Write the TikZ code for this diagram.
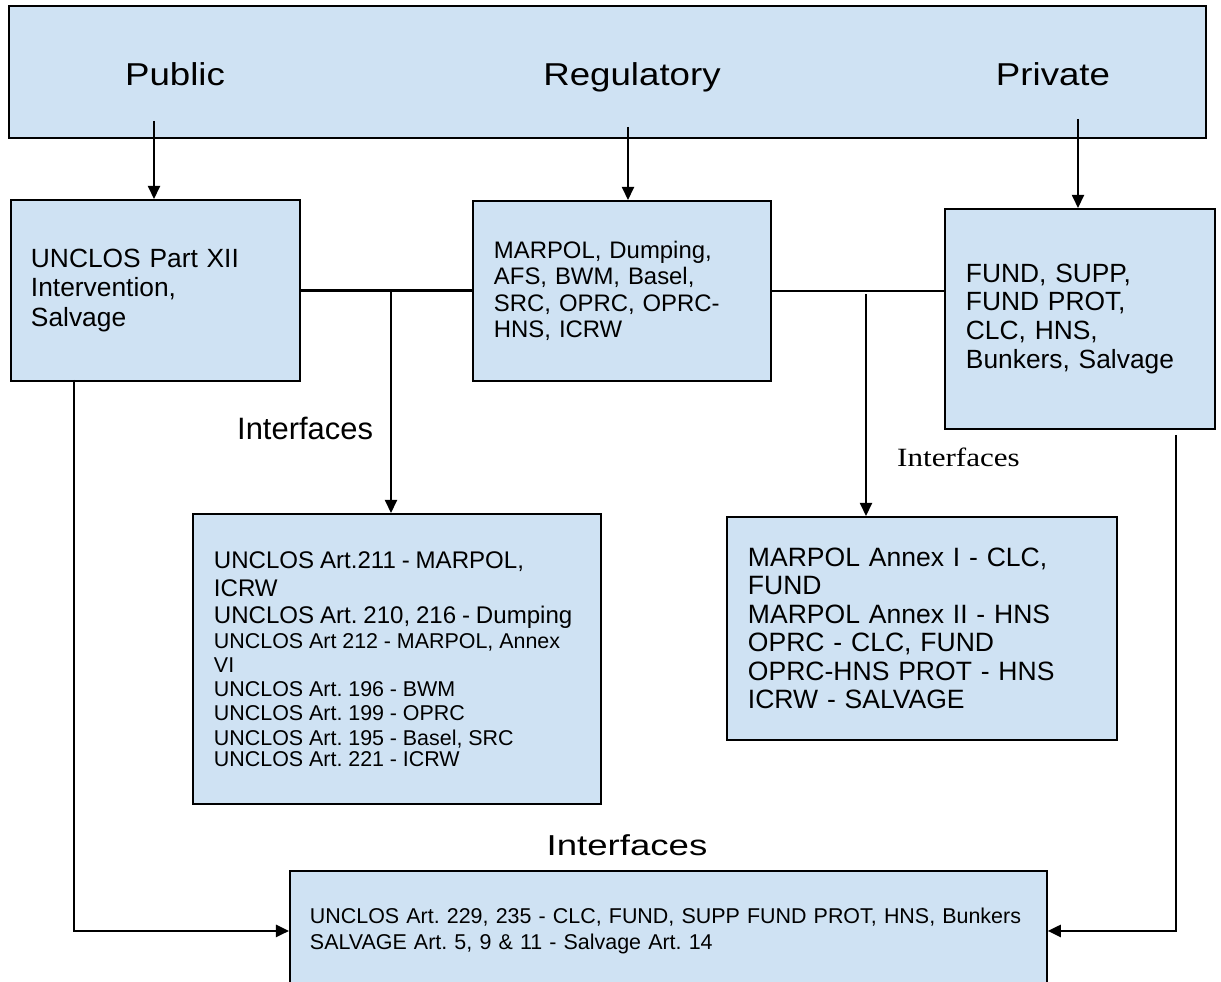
\documentclass[tikz,border=0pt]{standalone}
\usepackage{fontspec}
\setmainfont{Liberation Sans}
\newfontfamily\widefont[FakeStretch=1.16]{Liberation Sans}
\newfontfamily\widerfont[FakeStretch=1.27]{Liberation Sans}
\newfontfamily\timesfont[FakeStretch=1.18]{Liberation Serif}
\usetikzlibrary{arrows.meta}
\definecolor{boxblue}{HTML}{CFE2F3}
\frenchspacing
\tikzset{
  panel/.style={draw, line width=1.1pt, fill=boxblue, anchor=north west, inner sep=0pt, align=left},
  link/.style={line width=1.4pt},
  feed/.style={->, line width=0.8pt},
  route/.style={->, line width=1.1pt}
}

\begin{document}
\begin{tikzpicture}[>={Triangle[length=7.5pt,width=7pt]}, x=0.02cm, y=-0.02cm]
  \useasboundingbox (0,0) rectangle (1221,982);
  \clip (0,0) rectangle (1221,982);
  % header band
  \node[panel, minimum width=23.94cm, minimum height=2.64cm] (top) at (8,5) {};
  \node[anchor=base, font=\widefont\fontsize{18pt}{20pt}\selectfont] (lpub) at (175,86) {Public};
  \node[anchor=base, font=\widefont\fontsize{18pt}{20pt}\selectfont] (lreg) at (632,86) {Regulatory};
  \node[anchor=base, font=\widefont\fontsize{18pt}{20pt}\selectfont] (lpriv) at (1053,86) {Private};
  % three regimes
  \node[panel, minimum width=5.78cm, minimum height=3.62cm, text width=4.98cm,
        font=\fontsize{15pt}{17pt}\selectfont] (pub) at (10,199)
    {UNCLOS Part XII\\Intervention,\\Salvage};
  \node[panel, minimum width=5.96cm, minimum height=3.6cm, text width=5.12cm,
        font=\fontsize{13.6pt}{15.1pt}\selectfont] (reg) at (472,200)
    {MARPOL, Dumping,\\AFS, BWM, Basel,\\SRC, OPRC, OPRC-\\HNS, ICRW};
  \node[panel, minimum width=5.4cm, minimum height=4.4cm, text width=4.56cm,
        font=\fontsize{15pt}{16.4pt}\selectfont] (priv) at (944,208)
    {FUND, SUPP,\\FUND PROT,\\CLC, HNS,\\Bunkers, Salvage};
  % interfaces
  \node[panel, minimum width=8.16cm, minimum height=5.8cm, text width=7.32cm] (ifl) at (192,513)
    {{\fontsize{13.7pt}{15.8pt}\selectfont UNCLOS Art.211 - MARPOL,\\ICRW\\UNCLOS Art. 210, 216 - Dumping\par}
     \fontsize{12.2pt}{13.8pt}\selectfont UNCLOS Art 212 - MARPOL, Annex\\VI\\UNCLOS Art. 196 - BWM\\UNCLOS Art. 199 - OPRC\\UNCLOS Art. 195 - Basel, SRC\\UNCLOS Art. 221 - ICRW};
  \node[panel, minimum width=7.8cm, minimum height=4.46cm, text width=6.96cm,
        font=\fontsize{15.1pt}{16.2pt}\selectfont] (ifr) at (726,516)
    {MARPOL Annex I - CLC,\\FUND\\MARPOL Annex II - HNS\\OPRC - CLC, FUND\\OPRC-HNS PROT - HNS\\ICRW - SALVAGE};
  \node[panel, minimum width=15.14cm, minimum height=2.4cm, text width=14.34cm,
        font=\fontsize{12.2pt}{14.6pt}\selectfont] (ifb) at (289,870)
    {UNCLOS Art. 229, 235 - CLC, FUND, SUPP FUND PROT, HNS, Bunkers\\SALVAGE Art. 5, 9 \& 11 - Salvage Art. 14};
  \node[anchor=base west, font=\fontsize{17.6pt}{20pt}\selectfont] (tagl) at (231,440) {Interfaces};
  \node[anchor=base west, font=\timesfont\fontsize{15pt}{17pt}\selectfont] (tagr) at (891,467) {Interfaces};
  \node[anchor=base, font=\widerfont\fontsize{16.4pt}{19pt}\selectfont] (tagb) at (627,856) {Interfaces};
  % connectors
  \coordinate (pubsrc) at (154,121);
  \coordinate (regsrc) at (628,127);
  \coordinate (privsrc) at (1078,119);
  \draw[feed] (pubsrc) -- (pubsrc |- pub.north);
  \draw[feed] (regsrc) -- (regsrc |- reg.north);
  \draw[feed] (privsrc) -- (privsrc |- priv.north);
  \draw[link] (pub.east) -- (pub.east -| reg.west);
  \draw[link] (reg.east) -- (reg.east -| priv.west);
  \coordinate (ljoin) at (391,290);
  \coordinate (rjoin) at (866,294);
  \draw[feed] (ljoin) -- (ljoin |- ifl.north);
  \draw[feed] (rjoin) -- (rjoin |- ifr.north);
  \coordinate (pubfoot) at (74,380);
  \coordinate (privfoot) at (1176,435);
  \draw[route] (pubfoot) |- (ifb.west);
  \draw[route] (privfoot) |- (ifb.east);
\end{tikzpicture}
\end{document}
